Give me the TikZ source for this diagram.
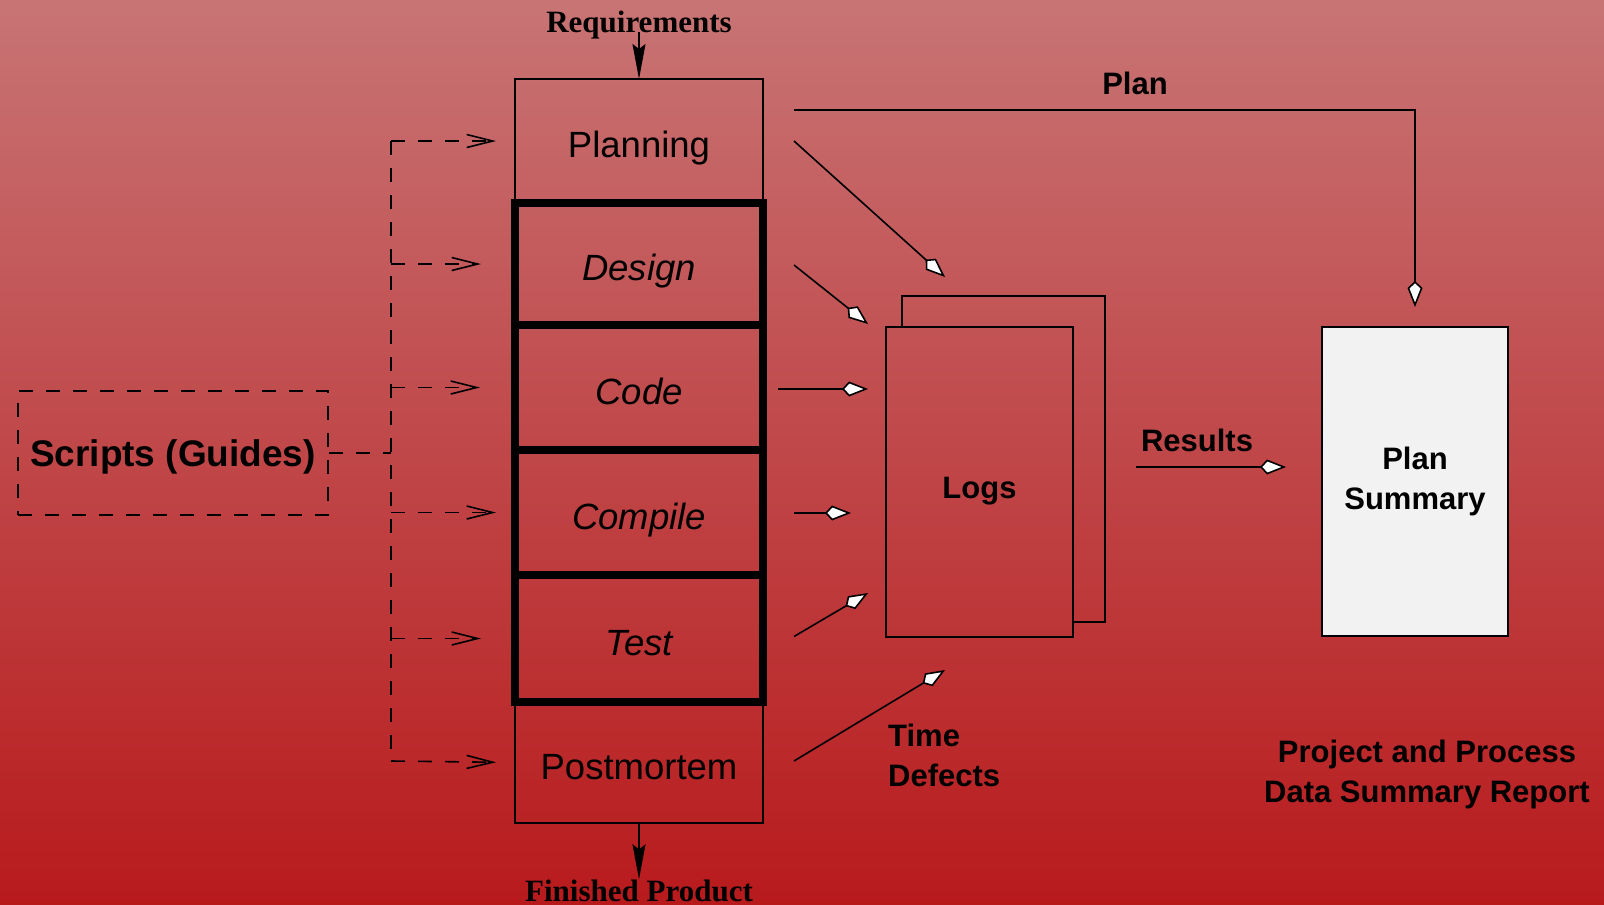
\documentclass[tikz,border=0pt]{standalone}
\usepackage{fontspec}
\setmainfont{Liberation Sans}
\newfontfamily\timesfam{Liberation Serif}
\usetikzlibrary{arrows.meta,calc}

\definecolor{bgtop}{RGB}{200,116,117}
\definecolor{bgbot}{RGB}{184,26,28}
\definecolor{sheet}{RGB}{242,242,242}

\tikzset{
  fineline/.style={line width=1.6pt},
  stagebox/.style={draw, fineline, minimum width=248pt, inner sep=0pt, outer sep=0pt,
    font=\fontsize{36.5}{40}\selectfont, text height=33pt, text depth=0pt},
  corebox/.style={stagebox, line width=8pt, font=\fontsize{36.5}{40}\selectfont\itshape},
  boldlbl/.style={font=\fontsize{31}{40}\selectfont\bfseries, inner sep=0pt},
  seriflbl/.style={font=\timesfam\fontsize{31}{40}\selectfont\bfseries, inner sep=0pt},
  dashline/.style={fineline, dash pattern=on 14pt off 13pt},
  guidearrow/.style={dashline, -{Straight Barb[length=26pt,width=13pt]}},
  flowarrow/.style={fineline, -{Stealth[length=35pt,width=13pt,inset=5pt]}},
  logarrow/.style={fineline, -{Kite[length=26pt,width=15pt,inset=7pt,fill=white]}},
}

\begin{document}
\begin{tikzpicture}[x=1pt,y=-1pt]
\useasboundingbox (0,0) rectangle (1604,905);
\shade[top color=bgtop, bottom color=bgbot] (0,0) rectangle (1604,905);

% process phases
\node[stagebox, minimum height=124pt] (plan) at (639,141) {Planning};
\node[stagebox, minimum height=121pt] (post) at (639,762.5) {Postmortem};
\node[corebox, minimum height=122pt] (design) at (639,264) {Design};
\node[corebox, minimum height=125pt] (code) at (639,387.5) {Code};
\node[corebox, minimum height=125pt] (compile) at (639,512.5) {Compile};
\node[corebox, minimum height=127pt] (test) at (639,638.5) {Test};

% inputs and outputs of the process
\node[seriflbl, anchor=base] (req) at (639,32) {Requirements};
\node[seriflbl, anchor=base] (fin) at (639,901) {Finished Product};
\draw[flowarrow] (req.base) -- (plan.north);
\draw[flowarrow] (post.south) -- (fin.north);

% scripts guiding every phase
\node[draw, dashline, minimum width=310pt, minimum height=124pt, text height=26.4pt, text depth=0pt,
      font=\fontsize{37}{40}\selectfont\bfseries, inner sep=0pt] (scripts) at (173,453) {Scripts (Guides)};
\coordinate (spinetop) at (391,141);
\coordinate (spinebot) at (391,761);
\draw[dashline] (spinetop) -- (spinebot);
\draw[dashline] (scripts.east) -- (spinetop |- scripts.east);
\draw[guidearrow, shorten >=19pt] (spinetop) -- (plan.west);
\draw[guidearrow, shorten >=34pt] (spinetop |- design.west) -- (design.west);
\draw[guidearrow, shorten >=35pt] (spinetop |- code.west) -- (code.west);
\draw[guidearrow, shorten >=19pt] (spinetop |- compile.west) -- (compile.west);
\draw[guidearrow, shorten >=34pt] (spinetop |- test.west) -- (test.west);
\draw[guidearrow, shorten >=19pt] (spinebot) -- (post.west);

% logs: a stack of two sheets
\node[minimum width=203pt, minimum height=326pt, inner sep=0pt, outer sep=0pt] (logsback) at (1003.5,459) {};
\node[draw, fineline, minimum width=187pt, minimum height=310pt, inner sep=0pt, outer sep=0pt,
      font=\fontsize{31}{40}\selectfont\bfseries, text height=32pt, text depth=0pt] (logs) at (979.5,482) {Logs};
\draw[fineline] (logs.north -| logsback.west) -- (logsback.north west) -- (logsback.north east)
  -- (logsback.south east) -- (logsback.south -| logs.east);

% plan summary sheet
\node[draw, fineline, fill=sheet, minimum width=186pt, minimum height=309pt, inner sep=0pt, outer sep=0pt,
      align=center, font=\fontsize{31}{40}\selectfont\bfseries] (summary) at (1415,481.5) {Plan\\Summary};

% data recorded in the logs
\draw[logarrow] ($(plan.east)+(31,0)$) -- ($(logs.north west)+(59,-50)$);
\draw[logarrow] ($(design.east)+(31,1)$) -- ($(logs.north west)+(-18,-3)$);
\draw[logarrow] ($(code.east)+(15,1.5)$) -- ($(logs.west |- code.east)+(-18,1.5)$);
\draw[logarrow] ($(compile.east)+(31,0.5)$) -- ($(compile.east)+(88,0.5)$);
\draw[logarrow] ($(test.east)+(31,-2)$) -- ($(logs.south west)+(-18,-44)$);
\draw[logarrow] ($(post.east)+(31,-1.5)$) -- ($(logs.south west)+(59,33)$);

% plan and results into the summary
\draw[logarrow] ($(plan.east)+(31,-31)$) -| ([yshift=20pt]summary.north);
\draw[logarrow] ($(logsback.east)+(31,8)$) -- ($(summary.west)+(-36,-14.5)$);

% labels
\node[boldlbl, text height=22pt, text depth=0pt] (planlbl) at (1135,83) {Plan};
\node[boldlbl, text height=22pt, text depth=0pt] (reslbl) at (1197,440) {Results};
\node[boldlbl, align=left, anchor=west] (tdlbl) at (888,755) {Time\\Defects};
\node[boldlbl, align=center] (reportlbl) at (1427,774) {Project and Process\\Data Summary Report};
\end{tikzpicture}
\end{document}
